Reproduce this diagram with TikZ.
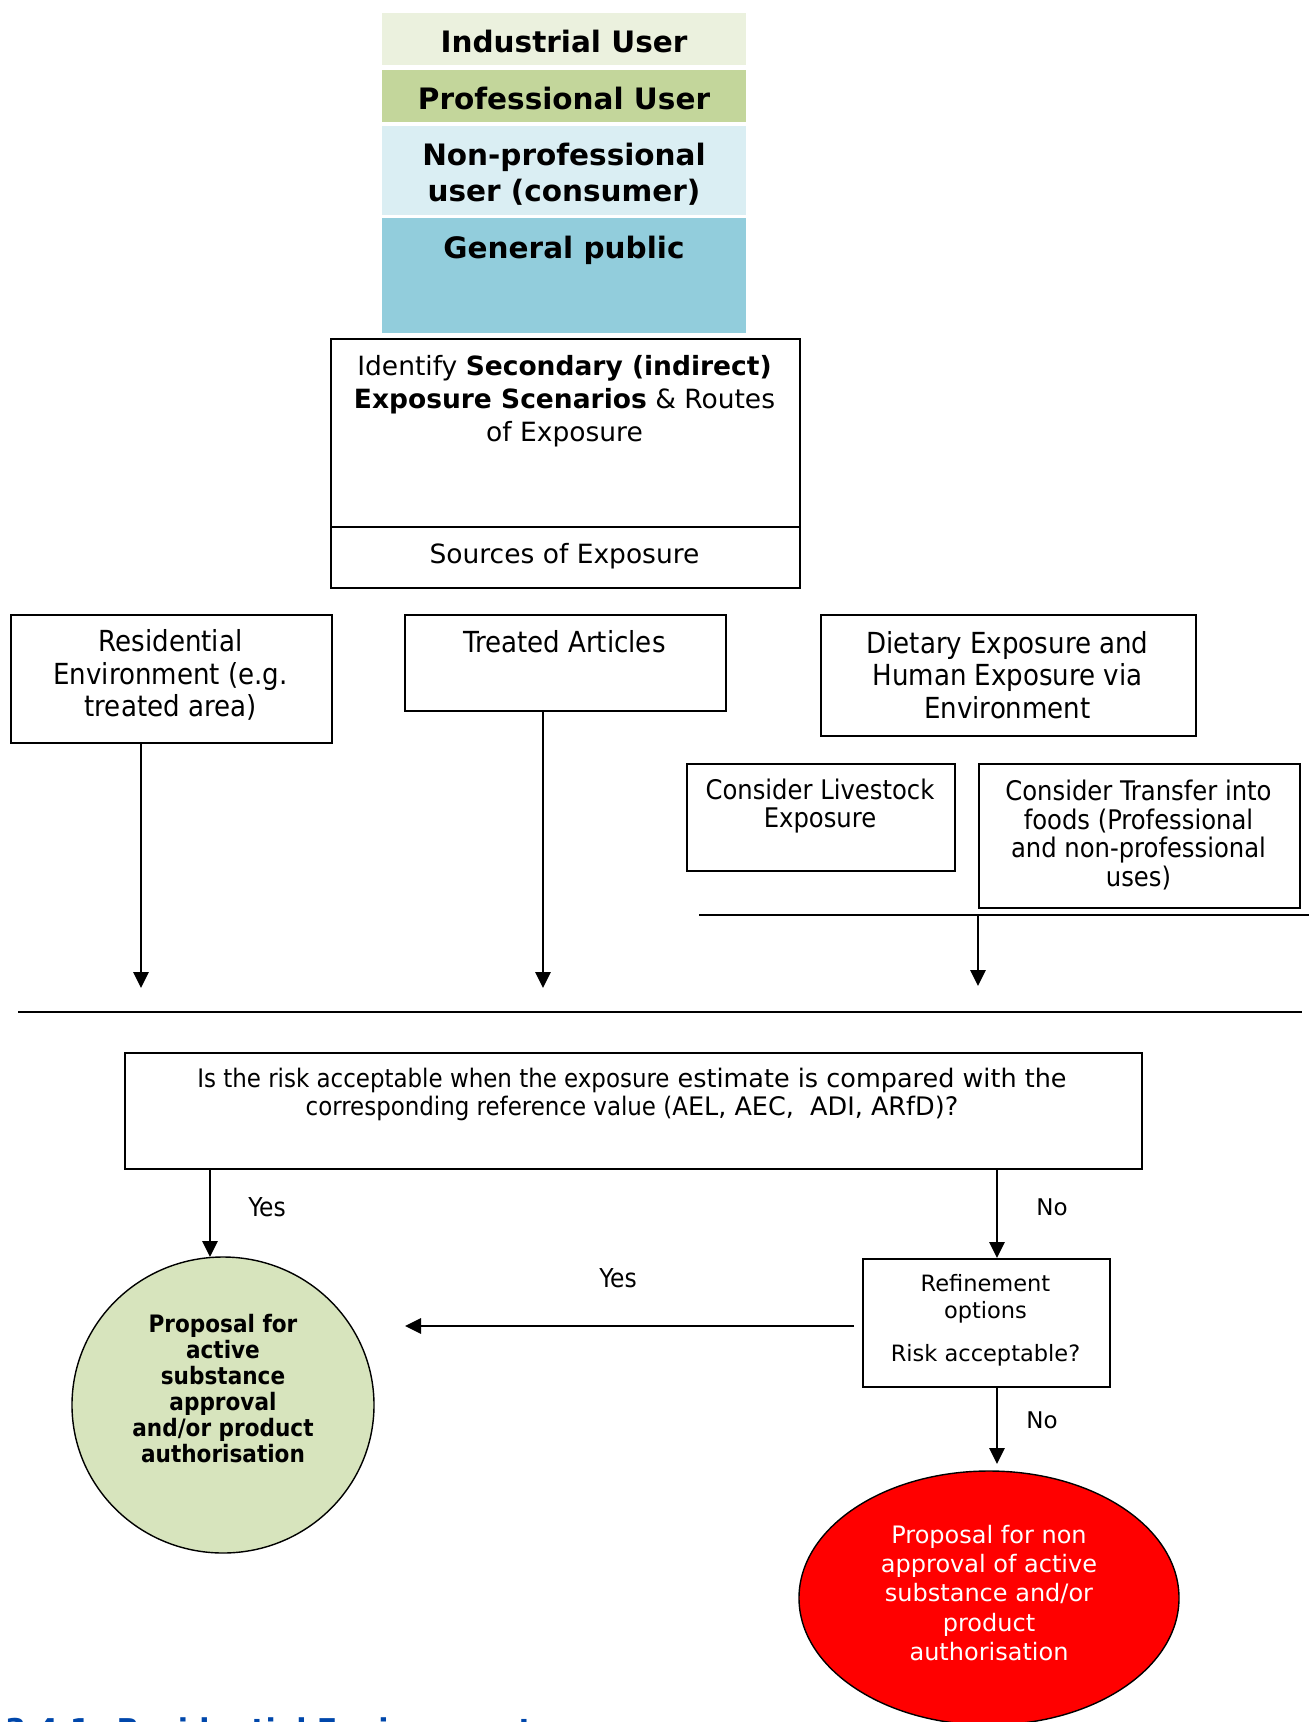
\documentclass[tikz,border=0pt]{standalone}
\usepackage{fontspec}
\setmainfont{DejaVu Sans}
\newfontfamily\tah{DejaVu Sans Condensed}
\usetikzlibrary{arrows.meta,shapes.geometric}
\definecolor{induser}{HTML}{EBF1DE}
\definecolor{profuser}{HTML}{C3D69B}
\definecolor{nonprof}{HTML}{DAEEF3}
\definecolor{genpub}{HTML}{92CDDC}
\definecolor{accgreen}{HTML}{D7E4BD}
\definecolor{headblue}{HTML}{0047AB}
\begin{document}
\begin{tikzpicture}[x=1pt,y=-1pt,
  frame/.style={draw,line width=2pt,inner sep=0pt,anchor=north west},
  band/.style={fill=#1,inner sep=0pt,anchor=north west,minimum width=364pt},
  lbl/.style={inner sep=0pt,align=center},
  arr/.style={line width=2.8pt,-{Triangle[length=16pt,width=15pt]}}]
\clip(0,0)rectangle(1309,1722);
\foreach \n/\c/\ya/\yb in {ind/induser/13/65,prof/profuser/70/122,nonp/nonprof/126/215,gen/genpub/218/333}{\node[band=\c,minimum height=\yb-\ya](\n)at(382,\ya){};}
\foreach \n/\y/\s in {indT/41/Industrial User,profT/98/Professional User,nonpT/174/{Non-professional\\user (consumer)},genT/250/General public}{\node[lbl,font=\bfseries\fontsize{29.5}{36}\selectfont](\n)at(564,\y){\s};}
\node[frame,minimum width=469pt,minimum height=188pt](ident)at(330,338){};
\node[frame,minimum width=469pt,minimum height=61pt](src)at(330,526){};
\node[lbl,font=\fontsize{26.5}{33}\selectfont](identT)at(564.5,401){Identify \textbf{Secondary (indirect)}\\\textbf{Exposure Scenarios} \& Routes\\of Exposure};
\node[lbl,font=\fontsize{26.5}{33}\selectfont](srcT)at(564.5,556){Sources of Exposure};
\node[frame,minimum width=321pt,minimum height=128pt](res)at(10,614){};
\node[frame,minimum width=321pt,minimum height=96pt](treat)at(404,614){};
\node[frame,minimum width=375pt,minimum height=121pt](diet)at(820,614){};
\node[frame,minimum width=268pt,minimum height=107pt](live)at(686,763){};
\node[frame,minimum width=321pt,minimum height=144pt](trans)at(978,763){};
\node[lbl,font=\tah\fontsize{29}{32.5}\selectfont](resT)at(170.5,675){Residential\\Environment (e.g.\\treated area)};
\node[lbl,font=\tah\fontsize{29}{32.5}\selectfont](treatT)at(564.5,642){Treated Articles};
\node[lbl,font=\tah\fontsize{29}{32.5}\selectfont](dietT)at(1007.5,675){Dietary Exposure and\\Human Exposure via\\Environment};
\node[lbl,font=\tah\fontsize{27}{28.5}\selectfont](liveT)at(820,806){Consider Livestock\\Exposure};
\node[lbl,font=\tah\fontsize{27}{28.5}\selectfont](transT)at(1138.5,835){Consider Transfer into\\foods (Professional\\and non-professional\\uses)};
\coordinate(resEnd)at(141,988);
\coordinate(treatEnd)at(543,988);
\coordinate(dietL)at(699,915);
\coordinate(dietR)at(1309,915);
\coordinate(dietEnd)at(978,986);
\coordinate(sepL)at(18,1012);
\coordinate(sepR)at(1302,1012);
\draw[arr](res.south-|resEnd)--(resEnd);
\draw[arr](treat.south-|treatEnd)--(treatEnd);
\draw[line width=2.2pt](dietL)--(dietR);
\draw[arr](dietL-|dietEnd)--(dietEnd);
\draw[line width=2.2pt](sepL)--(sepR);
\node[frame,minimum width=1017pt,minimum height=116pt](risk)at(124,1052){};
\node[lbl,font=\fontsize{25.5}{28.5}\selectfont](riskT)at(632,1094.5){{\tah Is the risk acceptable when the exposure} estimate is compared with the\\{\tah corresponding reference value (A}EL, AEC,\ \ ADI, ARfD)?};
\node[frame,minimum width=247pt,minimum height=128pt](refine)at(862,1258){};
\node[lbl,font=\fontsize{22.5}{27}\selectfont](refineT)at(985.5,1320){Refinement\\options\\[16pt]Risk acceptable?};
\node[ellipse,draw,fill=accgreen,line width=1.4pt,minimum width=302pt,minimum height=296pt,inner sep=0pt](accept)at(223,1405){};
\node[lbl,font=\tah\bfseries\fontsize{24}{26}\selectfont](acceptT)at(223,1389){Proposal for\\active\\substance\\approval\\and/or product\\authorisation};
\node[ellipse,draw,fill=red,line width=1.4pt,minimum width=380pt,minimum height=254pt,inner sep=0pt](reject)at(989,1598){};
\node[lbl,text=white,font=\fontsize{24}{29.4}\selectfont](rejectT)at(989,1593){Proposal for non\\approval of active\\substance and/or\\product\\authorisation};
\coordinate(yesEnd)at(210,1257);
\coordinate(noX)at(997,0);
\coordinate(noEnd)at(997,1464);
\coordinate(yesR)at(854,1326);
\coordinate(yesL)at(405,1326);
\draw[arr](risk.south-|yesEnd)--(yesEnd);
\draw[arr](risk.south-|noX)--(refine.north-|noX);
\draw[arr](yesR)--(yesL);
\draw[arr](refine.south-|noX)--(noEnd);
\node[lbl,font=\tah\fontsize{26}{30}\selectfont](yesA)at(267,1207){Yes};
\node[lbl,font=\tah\fontsize{26}{30}\selectfont](yesB)at(618,1278){Yes};
\node[lbl,font=\fontsize{23}{28}\selectfont](noA)at(1052,1207){No};
\node[lbl,font=\fontsize{23}{28}\selectfont](noB)at(1042,1420){No};
\node[anchor=base west,inner sep=0pt,text=headblue,font=\bfseries\fontsize{30}{36}\selectfont](head)at(5,1740){3.4.1\hspace{26pt}Residential Environment};
\end{tikzpicture}
\end{document}
